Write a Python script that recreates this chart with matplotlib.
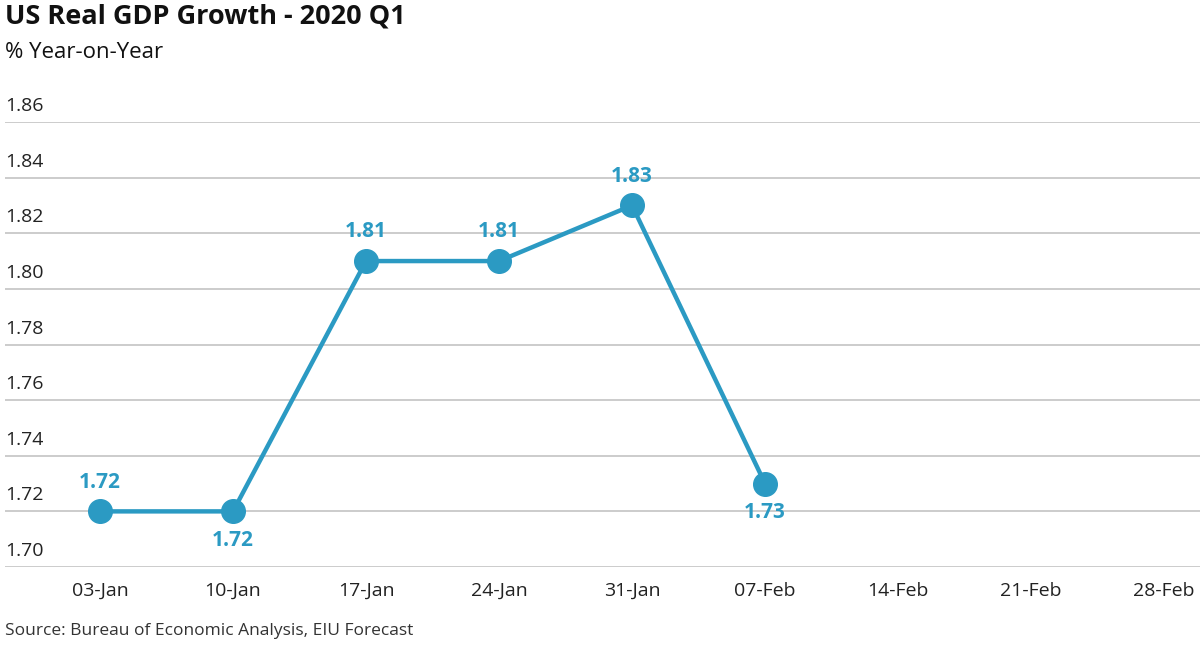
import matplotlib
matplotlib.use("Agg")
import matplotlib.pyplot as plt

# chart data
dates = ["03-Jan", "10-Jan", "17-Jan", "24-Jan", "31-Jan", "07-Feb", "14-Feb", "21-Feb", "28-Feb"]
growth = [1.72, 1.72, 1.81, 1.81, 1.83, 1.73]
label_below = [False, True, False, False, False, True]
yticks = [1.70, 1.72, 1.74, 1.76, 1.78, 1.80, 1.82, 1.84, 1.86]

blue = "#2b9ac3"
plt.rcParams["font.family"] = ["Open Sans", "DejaVu Sans"]

fig = plt.figure(figsize=(12, 6.46), dpi=100)
ax = fig.add_axes([5 / 1200, 1 - 567 / 646, 1 - 5 / 1200, (567 - 122) / 646])

x = list(range(len(growth)))
ax.plot(x, growth, color=blue, lw=3.2, marker="o", ms=17, zorder=3, clip_on=False)

for xi, v, below in zip(x, growth, label_below):
    off = -21 if below else 21
    ax.annotate(f"{v:.2f}", (xi, v), xytext=(0, off), textcoords="offset points",
                ha="center", va="center", color=blue, fontsize=15, fontweight="bold")

ax.set_xlim(-0.714, 8.27)
ax.set_ylim(1.70, 1.86)
for yv in yticks:
    ax.axhline(yv, color="#cccccc", lw=1.4, zorder=1)
    ax.text(0, yv + 0.0025, f"{yv:.2f}", transform=ax.get_yaxis_transform(),
            ha="left", va="bottom", fontsize=14, color="#222222")

ax.set_yticks([])
ax.set_xticks(range(len(dates)))
ax.set_xticklabels(dates, fontsize=14, color="#222222")
ax.tick_params(axis="x", length=0, pad=11)
for s in ax.spines.values():
    s.set_visible(False)

fig.text(5 / 1200, 1 - 17 / 646, "US Real GDP Growth - 2020 Q1", fontsize=19.5,
         fontweight="bold", ha="left", va="center", color="#111111")
fig.text(5 / 1200, 1 - 53 / 646, "% Year-on-Year", fontsize=16,
         ha="left", va="center", color="#111111")
fig.text(5 / 1200, 1 - 631 / 646, "Source: Bureau of Economic Analysis, EIU Forecast",
         fontsize=12.5, ha="left", va="center", color="#333333")

fig.savefig("out.png", dpi=100)
